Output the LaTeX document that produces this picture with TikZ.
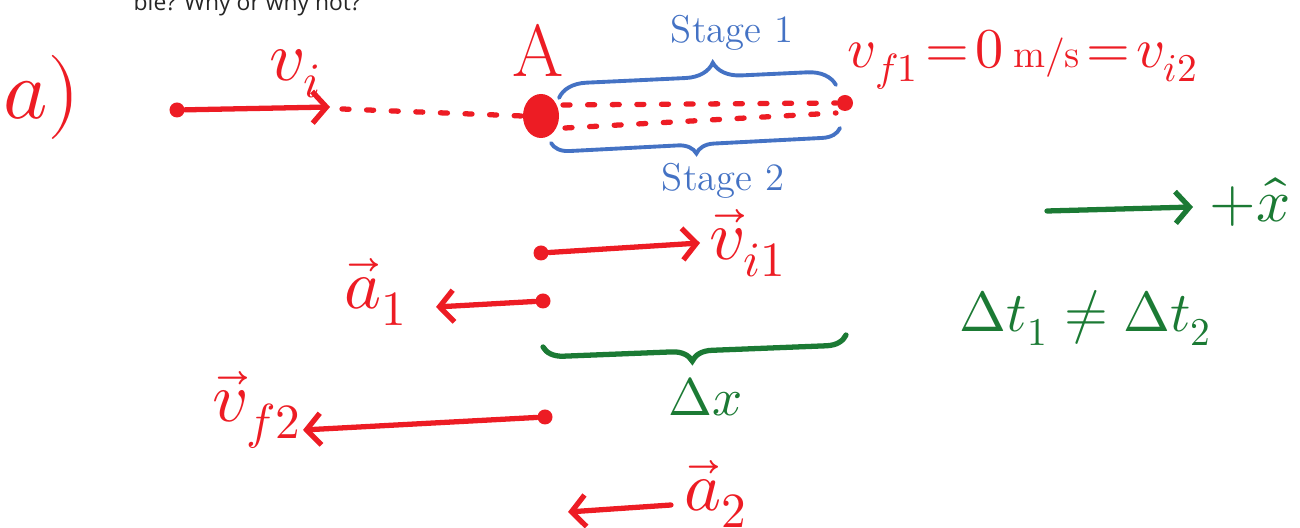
\documentclass[tikz,border=0pt]{standalone}
\usepackage{fontspec}
\usepackage{unicode-math}
\newfontfamily\uifont{Open Sans}
\usepackage{xcolor}
\usepackage{tikz}
\usetikzlibrary{positioning, arrows.meta, decorations.pathreplacing, shapes.geometric}
\definecolor{penred}{HTML}{ED1C24}
\definecolor{penblue}{HTML}{4472C4}
\definecolor{pengreen}{HTML}{1B7A34}

\begin{document}
\begin{tikzpicture}[
    x=0.01cm, y=-0.01cm,
    >={Straight Barb[length=4pt,width=9pt]},
    redpen/.style={line width=1.5pt, penred, line cap=round},
    reddots/.style={line width=1.5pt, penred, line cap=round, dash pattern=on 2pt off 5pt},
    greenpen/.style={line width=1.5pt, pengreen, line cap=round},
    bracepen/.style={line width=1.1pt, line cap=round, decorate},
    dot/.style={circle, fill=penred, inner sep=0pt, minimum size=0.15cm},
    redlabel/.style={penred, inner sep=0pt, font=\fontsize{20}{22}\selectfont},
    greenlabel/.style={pengreen, inner sep=0pt, font=\fontsize{16}{18}\selectfont},
    bluelabel/.style={penblue, inner sep=0pt, font=\fontsize{11}{13}\selectfont}
]

\useasboundingbox (0,0) rectangle (1300,528);

% Question text (cut off at the top)
\node[anchor=base west, inner sep=0pt, text=black!85,
      font=\uifont\fontsize{6.5}{7}\selectfont] (question) at (133,11)
{ble? Why or why not?};

% Part label
\node[redlabel, font=\fontsize{24}{26}\selectfont] (part) at (42,97) {$a)$};

% ---- Initial motion towards A ----
\node[dot] (start) at (177,110) {};
\coordinate (vihead) at (330,107);
\draw[redpen,->] (start) -- (vihead);
\node[redlabel] (vi) at (296,74) {$v_i$};

\coordinate (dotsL) at (342,109);
\node[ellipse, fill=penred, inner sep=0pt, minimum width=0.36cm,
      minimum height=0.44cm] (A) at (541,116) {};
\draw[reddots] (dotsL) -- (A.west);
\node[redlabel, font=\fontsize{21}{23}\selectfont] (Alabel) at (538,50) {A};

% ---- Stage 1 and Stage 2 ----
\node[dot, minimum size=0.16cm] (B) at (845,103) {};
\coordinate (up1) at (563,105);
\coordinate (low1) at (565,128);
\coordinate (low2) at (836,113);
\draw[reddots] (up1) -- (B.west);
\draw[reddots] (low1) -- (low2);

\coordinate (s1L) at (559,98);
\coordinate (s1R) at (836,85);
\draw[bracepen, penblue, decoration={brace, amplitude=0.28cm, aspect=0.56}]
    (s1L) -- (s1R);
\node[bluelabel] (stage1) at (732,33) {Stage 1};

\coordinate (s2L) at (551,143);
\coordinate (s2R) at (840,128);
\draw[bracepen, penblue, decoration={brace, amplitude=0.18cm, aspect=0.5}]
    (s2R) -- (s2L);
\node[bluelabel] (stage2) at (723,181) {Stage 2};

\node[redlabel, anchor=west, font=\fontsize{16}{18}\selectfont] (vf1) at (847,60)
{$v_{f1}\!=\!0\,{\scriptstyle\mathrm{m/s}}\!=\!v_{i2}$};

% ---- Vectors ----
\node[dot] (vi1tail) at (541,253) {};
\coordinate (vi1head) at (700,243);
\draw[redpen,->] (vi1tail) -- (vi1head);
\node[redlabel] (vi1) at (748,243) {$\vec{v}_{i1}$};

\node[dot] (a1tail) at (543,301) {};
\coordinate (a1head) at (436,307);
\draw[redpen,->] (a1tail) -- (a1head);
\node[redlabel] (a1) at (376,292) {$\vec{a}_{1}$};

\coordinate (dxL) at (543,347);
\coordinate (dxR) at (846,335);
\draw[bracepen, greenpen, decoration={brace, amplitude=0.2cm, aspect=0.51}]
    (dxR) -- (dxL);
\node[greenlabel, font=\fontsize{15}{17}\selectfont] (dx) at (706,397) {$\Delta x$};

\node[dot] (vf2tail) at (545,417) {};
\coordinate (vf2head) at (303,430);
\draw[redpen,->] (vf2tail) -- (vf2head);
\node[redlabel] (vf2) at (257,410) {$\vec{v}_{f2}$};

\coordinate (a2tail) at (671,505);
\coordinate (a2head) at (568,512);
\draw[redpen,->] (a2tail) -- (a2head);
\node[redlabel] (a2) at (716,494) {$\vec{a}_{2}$};

% ---- Axis and time ----
\coordinate (xtail) at (1047,211);
\coordinate (xhead) at (1193,207);
\draw[greenpen,->] (xtail) -- (xhead);
\node[greenlabel, font=\fontsize{17}{19}\selectfont] (xhat) at (1250,202) {$+\hat{x}$};

\node[greenlabel] (dt) at (1086,318) {$\Delta t_1 \neq \Delta t_2$};

\end{tikzpicture}
\end{document}
